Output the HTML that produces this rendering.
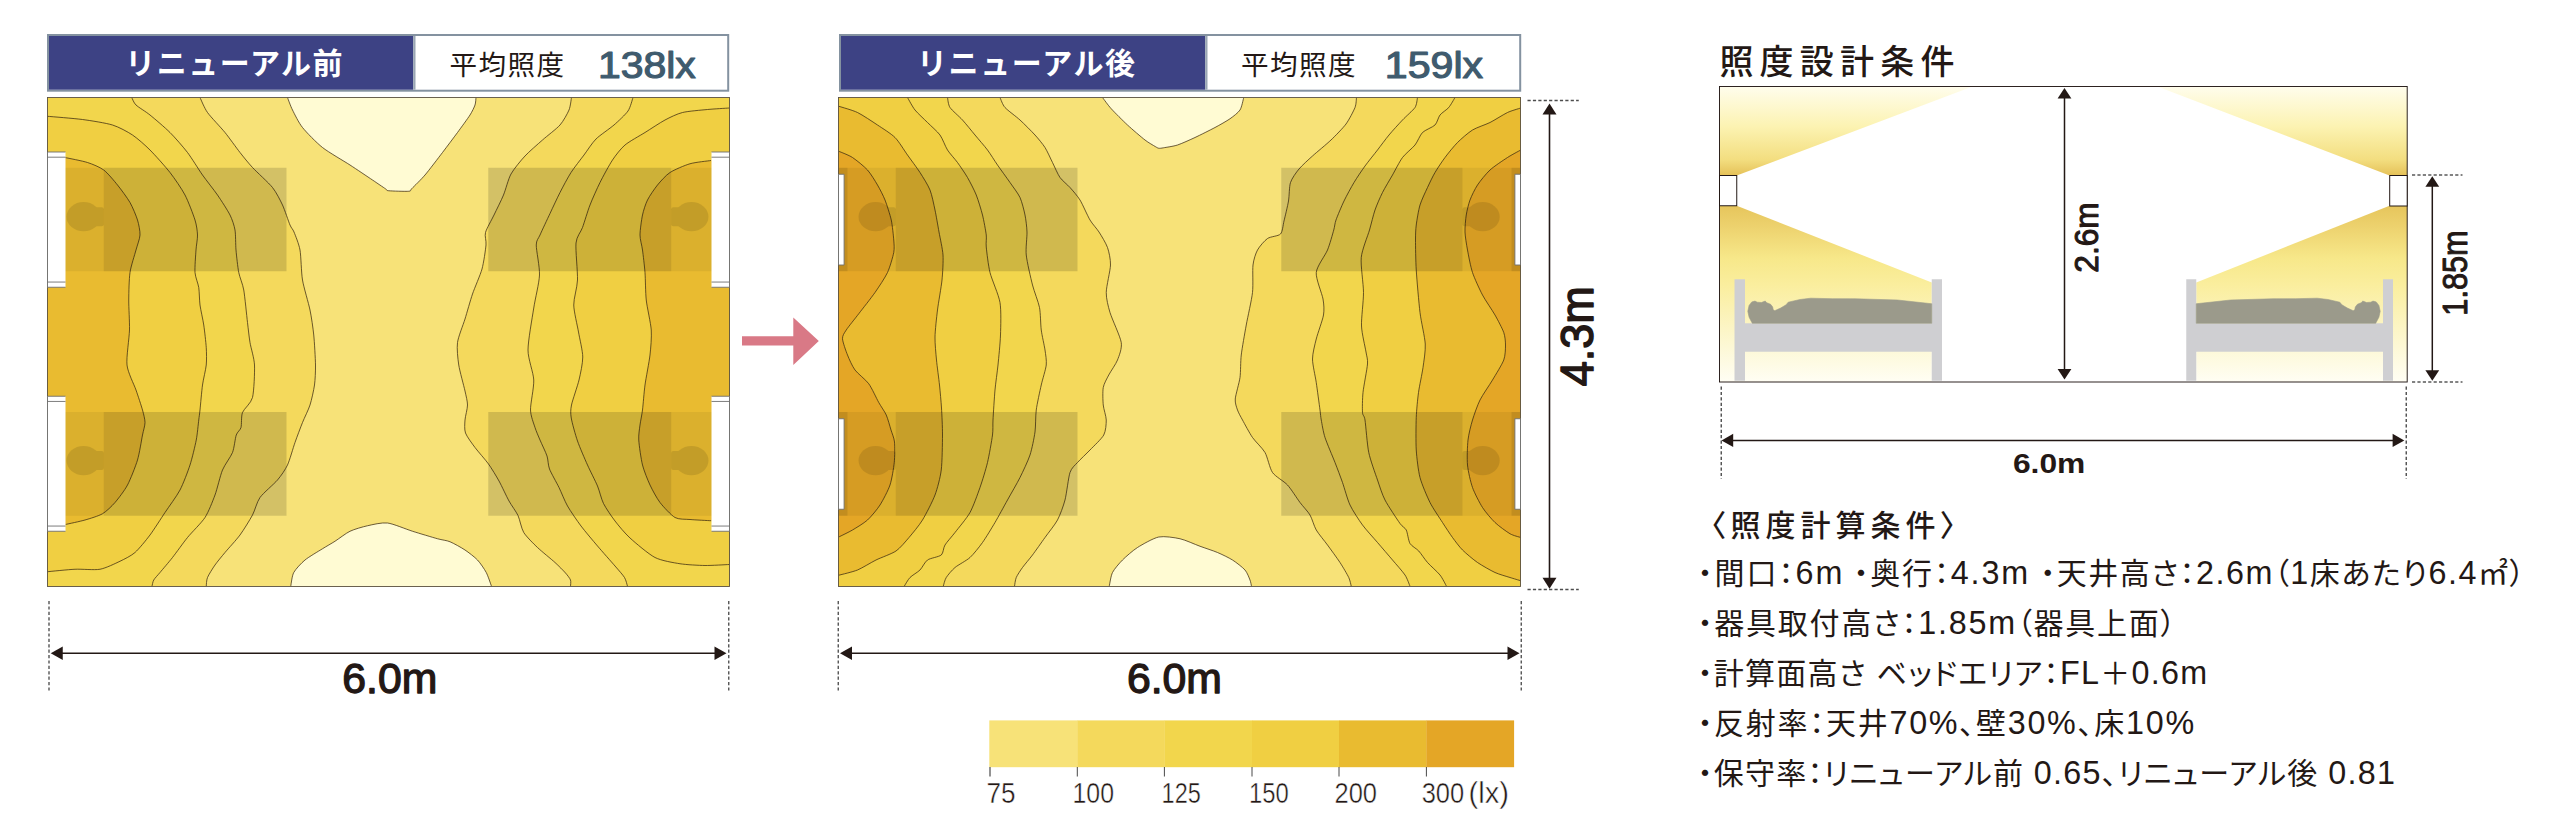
<!DOCTYPE html>
<html lang="ja">
<head>
<meta charset="utf-8">
<title>照度設計条件</title>
<style>
html,body{margin:0;padding:0;background:#fff;}
body{width:2560px;height:840px;overflow:hidden;}
svg{display:block;}
text{font-family:"Liberation Sans","Noto Sans CJK JP",sans-serif;}
.jp{font-family:"Liberation Sans","Noto Sans CJK JP",sans-serif;font-feature-settings:"palt" 1;}
</style>
</head>
<body>
<svg width="2560" height="840" viewBox="0 0 2560 840">
<rect width="2560" height="840" fill="#fff"/>
<defs>
<linearGradient id="gUp" x1="0" y1="0" x2="0" y2="1">
<stop offset="0" stop-color="#fffdec"/><stop offset="0.45" stop-color="#fcf3b2"/><stop offset="0.82" stop-color="#f3de80"/><stop offset="1" stop-color="#e5c158"/>
</linearGradient>
<linearGradient id="gDown" x1="0" y1="0" x2="0" y2="1">
<stop offset="0" stop-color="#e6c55c"/><stop offset="0.12" stop-color="#edd26e"/><stop offset="0.3" stop-color="#f7e88a"/><stop offset="0.45" stop-color="#faee9e"/><stop offset="0.7" stop-color="#fcf5c6"/><stop offset="1" stop-color="#fffef4"/>
</linearGradient>
</defs>

<!-- before renewal -->
<rect x="48" y="35" width="680.2" height="55.7" fill="#fff" stroke="#8492a0" stroke-width="2"/>
<rect x="49" y="36" width="364.2" height="53.7" fill="#3d4284"/>
<rect x="413.2" y="36" width="2.3" height="53.7" fill="#9aa6b3"/>
<text x="125.3" y="74" font-size="30" font-weight="700" fill="#fff" textLength="217.2" lengthAdjust="spacing">リニューアル前</text>
<text x="449.6" y="75.4" font-size="27.6" font-weight="400" fill="#231815" textLength="114.6" lengthAdjust="spacing">平均照度</text>
<text x="597.9" y="77.6" font-size="36.5" font-weight="400" fill="#3f5b6e" stroke="#3f5b6e" stroke-width="1.15" stroke-linejoin="round" textLength="97.8" lengthAdjust="spacingAndGlyphs">138lx</text>
<clipPath id="clipA"><rect x="47.5" y="97.5" width="682" height="489"/></clipPath>
<g clip-path="url(#clipA)">
<rect x="47.5" y="97.5" width="682" height="489" fill="#f7e278"/>
<path fill="#f4d95c" d="M200,97.5C200.94,99.38 204.38,108.12 207.5,112.5C210.62,116.88 220.94,127.5 225,132.5C229.06,137.5 236.56,148.12 240,152.5C243.44,156.88 248.44,163.12 252.5,167.5C256.56,171.88 268.75,182.81 272.5,187.5C276.25,192.19 280.31,200.31 282.5,205C284.69,209.69 288.56,221.62 290,225C291.44,228.38 292.75,228.88 294,232C295.25,235.12 298.94,244 300,250C301.06,256 301.25,272.5 302.5,280C303.75,287.5 308.59,303.12 310,310C311.41,316.88 313.06,328.12 313.75,335C314.44,341.88 315.41,358.75 315.5,365C315.59,371.25 315.19,380 314.5,385C313.81,390 311.5,400.31 310,405C308.5,409.69 304.38,417.81 302.5,422.5C300.62,427.19 296.88,437.19 295,442.5C293.12,447.81 289.69,460.31 287.5,465C285.31,469.69 280.94,475.94 277.5,480C274.06,484.06 263.12,493.12 260,497.5C256.88,501.88 255,510.31 252.5,515C250,519.69 243.44,530.31 240,535C236.56,539.69 228.12,548.75 225,552.5C221.88,556.25 217.19,561.88 215,565C212.81,568.12 208.59,574.84 207.5,577.5C206.41,580.16 206.41,585.16 206.25,586.25L45.5,586.5L45.5,97.5Z"/>
<path fill="#f2d64c" d="M131.75,97.5C132.28,98.44 133.72,102.81 136,105C138.28,107.19 145.75,111.56 150,115C154.25,118.44 165.31,127.81 170,132.5C174.69,137.19 183.44,147.19 187.5,152.5C191.56,157.81 198.75,169.69 202.5,175C206.25,180.31 214.06,190 217.5,195C220.94,200 227.81,210.62 230,215C232.19,219.38 234.25,225.62 235,230C235.75,234.38 235.53,244.69 236,250C236.47,255.31 237.78,267.5 238.75,272.5C239.72,277.5 242.66,283.75 243.75,290C244.84,296.25 246.72,315.94 247.5,322.5C248.28,329.06 249.12,337.19 250,342.5C250.88,347.81 254.19,358.12 254.5,365C254.81,371.88 254,391.56 252.5,397.5C251,403.44 243.94,408.75 242.5,412.5C241.06,416.25 241.78,424.69 241,427.5C240.22,430.31 237.31,431.88 236.25,435C235.19,438.12 234.22,448.12 232.5,452.5C230.78,456.88 224.69,464.69 222.5,470C220.31,475.31 217.19,489.06 215,495C212.81,500.94 208.44,512.19 205,517.5C201.56,522.81 191.56,532.5 187.5,537.5C183.44,542.5 175.94,553.12 172.5,557.5C169.06,561.88 162.34,569.69 160,572.5C157.66,575.31 154.75,578.28 153.75,580C152.75,581.72 152.22,585.47 152,586.25L45.5,586.5L45.5,97.5Z"/>
<path fill="#f0cf42" d="M47,116.25C51.44,116.66 74.31,118.41 82.5,119.5C90.69,120.59 106.25,123.06 112.5,125C118.75,126.94 127.81,131.88 132.5,135C137.19,138.12 145.31,145.31 150,150C154.69,154.69 165.62,166.88 170,172.5C174.38,178.12 181.88,189.06 185,195C188.12,200.94 193.44,215 195,220C196.56,225 197.38,231.25 197.5,235C197.62,238.75 196.31,245.31 196,250C195.69,254.69 194.66,267.81 195,272.5C195.34,277.19 198.12,283.44 198.75,287.5C199.38,291.56 199.38,300.31 200,305C200.62,309.69 202.97,319.69 203.75,325C204.53,330.31 205.94,342.5 206.25,347.5C206.56,352.5 206.72,360.31 206.25,365C205.78,369.69 203.28,379.38 202.5,385C201.72,390.62 200.47,405.62 200,410C199.53,414.38 199.22,416.25 198.75,420C198.28,423.75 197.34,434.38 196.25,440C195.16,445.62 192.03,458.75 190,465C187.97,471.25 183.12,484.06 180,490C176.88,495.94 168.75,506.88 165,512.5C161.25,518.12 153.75,530 150,535C146.25,540 138.75,549.22 135,552.5C131.25,555.78 124.38,559.16 120,561.25C115.62,563.34 105.62,568.25 100,569.25C94.38,570.25 81.62,568.94 75,569.25C68.38,569.56 50.5,571.44 47,571.75L45.5,571.75L45.5,116.25Z"/>
<path fill="#e9bb30" d="M65,157.5C67.81,158.12 82.66,160.94 87.5,162.5C92.34,164.06 100,167.19 103.75,170C107.5,172.81 114.22,180.94 117.5,185C120.78,189.06 127.5,198.12 130,202.5C132.5,206.88 136.25,215.94 137.5,220C138.75,224.06 140.19,231.25 140,235C139.81,238.75 137.25,245.31 136,250C134.75,254.69 130.91,266.25 130,272.5C129.09,278.75 128.81,292.81 128.75,300C128.69,307.19 129.72,321.88 129.5,330C129.28,338.12 126.19,357.5 127,365C127.81,372.5 134.06,384.38 136,390C137.94,395.62 141.38,405.94 142.5,410C143.62,414.06 145,419.38 145,422.5C145,425.62 143.44,430.31 142.5,435C141.56,439.69 139.38,453.75 137.5,460C135.62,466.25 130.31,479.69 127.5,485C124.69,490.31 118.12,498.91 115,502.5C111.88,506.09 106.25,511.56 102.5,513.75C98.75,515.94 89.62,518.66 85,520C80.38,521.34 67.94,523.94 65.5,524.5L45.5,524.5L45.5,157.5Z"/>
<path fill="#f4d95c" d="M571.5,97.5C571.19,99.06 570.44,106.56 569,110C567.56,113.44 563.31,121.25 560,125C556.69,128.75 546.88,136.12 542.5,140C538.12,143.88 528.94,151.75 525,156C521.06,160.25 513.69,169.12 511,174C508.31,178.88 505.62,189.88 503.5,195C501.38,200.12 496.25,210.31 494,215C491.75,219.69 486.5,228.75 485.5,232.5C484.5,236.25 486.44,240.44 486,245C485.56,249.56 483.69,262.88 482,269C480.31,275.12 474.62,287.75 472.5,294C470.38,300.25 466.88,312.94 465,319C463.12,325.06 458.28,336.75 457.5,342.5C456.72,348.25 457.81,358.94 458.75,365C459.69,371.06 463.91,386 465,391C466.09,396 467.5,401.38 467.5,405C467.5,408.62 465.25,416.5 465,420C464.75,423.5 464.25,429.56 465.5,433C466.75,436.44 472.12,443.62 475,447.5C477.88,451.38 485.5,459.81 488.5,464C491.5,468.19 496.44,476.38 499,481C501.56,485.62 506.62,496.69 509,501C511.38,505.31 516.16,511.56 518,515.5C519.84,519.44 521.31,528.5 523.75,532.5C526.19,536.5 533.59,543.75 537.5,547.5C541.41,551.25 551.5,559.31 555,562.5C558.5,565.69 563.56,570.81 565.5,573C567.44,575.19 569.88,578.34 570.5,580C571.12,581.66 570.5,585.47 570.5,586.25L731.5,586.5L731.5,97.5Z"/>
<path fill="#f2d64c" d="M633,97.5C632.38,99.19 630.38,107.56 628,111C625.62,114.44 618,121.5 614,125C610,128.5 599.75,135.25 596,139C592.25,142.75 587.12,150.81 584,155C580.88,159.19 574,167.81 571,172.5C568,177.19 562.62,187.38 560,192.5C557.38,197.62 552.5,208.19 550,213.5C547.5,218.81 541.72,231.06 540,235C538.28,238.94 536.31,240 536.25,245C536.19,250 539.81,267.12 539.5,275C539.19,282.88 535.19,298.62 533.75,308C532.31,317.38 528,341 528,350C528,359 533.44,372.5 533.75,380C534.06,387.5 530.34,404.06 530.5,410C530.66,415.94 533.81,423.75 535,427.5C536.19,431.25 538.5,436.44 540,440C541.5,443.56 545.81,452.38 547,456C548.19,459.62 548,465.06 549.5,469C551,472.94 556.75,482.88 559,487.5C561.25,492.12 564.75,501.19 567.5,506C570.25,510.81 577.25,521 581,526C584.75,531 593.25,541 597.5,546C601.75,551 611.62,562.06 615,566C618.38,569.94 622.94,574.97 624.5,577.5C626.06,580.03 627.12,585.16 627.5,586.25L731.5,586.5L731.5,97.5Z"/>
<path fill="#f0cf42" d="M729.25,108C726.53,108.19 713.34,108.94 707.5,109.5C701.66,110.06 687.81,111.19 682.5,112.5C677.19,113.81 669.69,117.5 665,120C660.31,122.5 650,129.38 645,132.5C640,135.62 629.06,141.56 625,145C620.94,148.44 615.62,155.31 612.5,160C609.38,164.69 602.81,176.88 600,182.5C597.19,188.12 592.19,199.38 590,205C587.81,210.62 584.25,222.75 582.5,227.5C580.75,232.25 576.62,236.44 576,243C575.38,249.56 577.78,272.25 577.5,280C577.22,287.75 573.62,298.5 573.75,305C573.88,311.5 577.38,325.5 578.5,332C579.62,338.5 582.69,351 582.75,357C582.81,363 580.41,374 579,380C577.59,386 572.47,400.25 571.5,405C570.53,409.75 570.5,413.5 571.25,418C572,422.5 575.47,435.12 577.5,441C579.53,446.88 585,459.38 587.5,465C590,470.62 595.5,481.19 597.5,486C599.5,490.81 601.31,499.12 603.5,503.5C605.69,507.88 611.69,516.69 615,521C618.31,525.31 625,533.44 630,538C635,542.56 648.75,554.28 655,557.5C661.25,560.72 673.75,562.75 680,563.75C686.25,564.75 698.84,565.41 705,565.5C711.16,565.59 726.22,564.62 729.25,564.5L731.5,564.5L731.5,108Z"/>
<path fill="#e9bb30" d="M711,160.5C708.38,160.91 695.12,162.25 690,163.75C684.88,165.25 674.06,169.84 670,172.5C665.94,175.16 660.31,181.56 657.5,185C654.69,188.44 649.38,196.25 647.5,200C645.62,203.75 643.44,210.62 642.5,215C641.56,219.38 640,230.62 640,235C640,239.38 641.88,245.31 642.5,250C643.12,254.69 644.53,266.25 645,272.5C645.47,278.75 645.47,292.81 646.25,300C647.03,307.19 650.78,323.12 651.25,330C651.72,336.88 650.78,348.12 650,355C649.22,361.88 645.94,378.12 645,385C644.06,391.88 643.12,405 642.5,410C641.88,415 640.47,421.25 640,425C639.53,428.75 638.44,435 638.75,440C639.06,445 641.09,459.38 642.5,465C643.91,470.62 647.81,480.31 650,485C652.19,489.69 656.88,498.44 660,502.5C663.12,506.56 671.25,515.38 675,517.5C678.75,519.62 685.47,519.09 690,519.5C694.53,519.91 708.59,520.59 711.25,520.75L731.5,520.75L731.5,160.5Z"/>
<path fill="#fffbd3" d="M287.5,97.5C288.12,99.06 290.62,106.25 292.5,110C294.38,113.75 298.75,122.81 302.5,127.5C306.25,132.19 316.56,142.81 322.5,147.5C328.44,152.19 343.75,160.94 350,165C356.25,169.06 368.06,177.03 372.5,180C376.94,182.97 383.47,187.46 385.5,188.8C387.53,190.14 385.84,190.44 388.75,190.75C391.66,191.06 405.87,191.52 408.75,191.25C411.63,190.98 409.77,190.63 411.8,188.6C413.83,186.57 421.16,179.51 425,175C428.84,170.49 438.44,157.81 442.5,152.5C446.56,147.19 454.06,137.19 457.5,132.5C460.94,127.81 467.81,118.44 470,115C472.19,111.56 474.25,107.19 475,105C475.75,102.81 475.88,98.44 476,97.5L476,95.5L287.5,95.5Z"/>
<path fill="#fffbd3" d="M290.75,586.25C291.12,584.53 291.97,575.78 293.75,572.5C295.53,569.22 301.41,562.97 305,560C308.59,557.03 318.75,551.09 322.5,548.75C326.25,546.41 331.56,543.44 335,541.25C338.44,539.06 345.94,533.19 350,531.25C354.06,529.31 362.81,526.78 367.5,525.75C372.19,524.72 381.88,522.31 387.5,523C393.12,523.69 406.25,529.28 412.5,531.25C418.75,533.22 432.81,537.44 437.5,538.75C442.19,540.06 446.56,540.34 450,541.75C453.44,543.16 461.56,547.72 465,550C468.44,552.28 474.84,557.19 477.5,560C480.16,562.81 484.5,569.22 486.25,572.5C488,575.78 490.84,584.53 491.5,586.25L491.5,588.5L290.75,588.5Z"/>
<g fill="none" stroke="#3b2a12" stroke-width="0.75" stroke-linejoin="round">
<path d="M65,157.5C67.81,158.12 82.66,160.94 87.5,162.5C92.34,164.06 100,167.19 103.75,170C107.5,172.81 114.22,180.94 117.5,185C120.78,189.06 127.5,198.12 130,202.5C132.5,206.88 136.25,215.94 137.5,220C138.75,224.06 140.19,231.25 140,235C139.81,238.75 137.25,245.31 136,250C134.75,254.69 130.91,266.25 130,272.5C129.09,278.75 128.81,292.81 128.75,300C128.69,307.19 129.72,321.88 129.5,330C129.28,338.12 126.19,357.5 127,365C127.81,372.5 134.06,384.38 136,390C137.94,395.62 141.38,405.94 142.5,410C143.62,414.06 145,419.38 145,422.5C145,425.62 143.44,430.31 142.5,435C141.56,439.69 139.38,453.75 137.5,460C135.62,466.25 130.31,479.69 127.5,485C124.69,490.31 118.12,498.91 115,502.5C111.88,506.09 106.25,511.56 102.5,513.75C98.75,515.94 89.62,518.66 85,520C80.38,521.34 67.94,523.94 65.5,524.5"/>
<path d="M47,116.25C51.44,116.66 74.31,118.41 82.5,119.5C90.69,120.59 106.25,123.06 112.5,125C118.75,126.94 127.81,131.88 132.5,135C137.19,138.12 145.31,145.31 150,150C154.69,154.69 165.62,166.88 170,172.5C174.38,178.12 181.88,189.06 185,195C188.12,200.94 193.44,215 195,220C196.56,225 197.38,231.25 197.5,235C197.62,238.75 196.31,245.31 196,250C195.69,254.69 194.66,267.81 195,272.5C195.34,277.19 198.12,283.44 198.75,287.5C199.38,291.56 199.38,300.31 200,305C200.62,309.69 202.97,319.69 203.75,325C204.53,330.31 205.94,342.5 206.25,347.5C206.56,352.5 206.72,360.31 206.25,365C205.78,369.69 203.28,379.38 202.5,385C201.72,390.62 200.47,405.62 200,410C199.53,414.38 199.22,416.25 198.75,420C198.28,423.75 197.34,434.38 196.25,440C195.16,445.62 192.03,458.75 190,465C187.97,471.25 183.12,484.06 180,490C176.88,495.94 168.75,506.88 165,512.5C161.25,518.12 153.75,530 150,535C146.25,540 138.75,549.22 135,552.5C131.25,555.78 124.38,559.16 120,561.25C115.62,563.34 105.62,568.25 100,569.25C94.38,570.25 81.62,568.94 75,569.25C68.38,569.56 50.5,571.44 47,571.75"/>
<path d="M131.75,97.5C132.28,98.44 133.72,102.81 136,105C138.28,107.19 145.75,111.56 150,115C154.25,118.44 165.31,127.81 170,132.5C174.69,137.19 183.44,147.19 187.5,152.5C191.56,157.81 198.75,169.69 202.5,175C206.25,180.31 214.06,190 217.5,195C220.94,200 227.81,210.62 230,215C232.19,219.38 234.25,225.62 235,230C235.75,234.38 235.53,244.69 236,250C236.47,255.31 237.78,267.5 238.75,272.5C239.72,277.5 242.66,283.75 243.75,290C244.84,296.25 246.72,315.94 247.5,322.5C248.28,329.06 249.12,337.19 250,342.5C250.88,347.81 254.19,358.12 254.5,365C254.81,371.88 254,391.56 252.5,397.5C251,403.44 243.94,408.75 242.5,412.5C241.06,416.25 241.78,424.69 241,427.5C240.22,430.31 237.31,431.88 236.25,435C235.19,438.12 234.22,448.12 232.5,452.5C230.78,456.88 224.69,464.69 222.5,470C220.31,475.31 217.19,489.06 215,495C212.81,500.94 208.44,512.19 205,517.5C201.56,522.81 191.56,532.5 187.5,537.5C183.44,542.5 175.94,553.12 172.5,557.5C169.06,561.88 162.34,569.69 160,572.5C157.66,575.31 154.75,578.28 153.75,580C152.75,581.72 152.22,585.47 152,586.25"/>
<path d="M200,97.5C200.94,99.38 204.38,108.12 207.5,112.5C210.62,116.88 220.94,127.5 225,132.5C229.06,137.5 236.56,148.12 240,152.5C243.44,156.88 248.44,163.12 252.5,167.5C256.56,171.88 268.75,182.81 272.5,187.5C276.25,192.19 280.31,200.31 282.5,205C284.69,209.69 288.56,221.62 290,225C291.44,228.38 292.75,228.88 294,232C295.25,235.12 298.94,244 300,250C301.06,256 301.25,272.5 302.5,280C303.75,287.5 308.59,303.12 310,310C311.41,316.88 313.06,328.12 313.75,335C314.44,341.88 315.41,358.75 315.5,365C315.59,371.25 315.19,380 314.5,385C313.81,390 311.5,400.31 310,405C308.5,409.69 304.38,417.81 302.5,422.5C300.62,427.19 296.88,437.19 295,442.5C293.12,447.81 289.69,460.31 287.5,465C285.31,469.69 280.94,475.94 277.5,480C274.06,484.06 263.12,493.12 260,497.5C256.88,501.88 255,510.31 252.5,515C250,519.69 243.44,530.31 240,535C236.56,539.69 228.12,548.75 225,552.5C221.88,556.25 217.19,561.88 215,565C212.81,568.12 208.59,574.84 207.5,577.5C206.41,580.16 206.41,585.16 206.25,586.25"/>
<path d="M287.5,97.5C288.12,99.06 290.62,106.25 292.5,110C294.38,113.75 298.75,122.81 302.5,127.5C306.25,132.19 316.56,142.81 322.5,147.5C328.44,152.19 343.75,160.94 350,165C356.25,169.06 368.06,177.03 372.5,180C376.94,182.97 383.47,187.46 385.5,188.8C387.53,190.14 385.84,190.44 388.75,190.75C391.66,191.06 405.87,191.52 408.75,191.25C411.63,190.98 409.77,190.63 411.8,188.6C413.83,186.57 421.16,179.51 425,175C428.84,170.49 438.44,157.81 442.5,152.5C446.56,147.19 454.06,137.19 457.5,132.5C460.94,127.81 467.81,118.44 470,115C472.19,111.56 474.25,107.19 475,105C475.75,102.81 475.88,98.44 476,97.5"/>
<path d="M290.75,586.25C291.12,584.53 291.97,575.78 293.75,572.5C295.53,569.22 301.41,562.97 305,560C308.59,557.03 318.75,551.09 322.5,548.75C326.25,546.41 331.56,543.44 335,541.25C338.44,539.06 345.94,533.19 350,531.25C354.06,529.31 362.81,526.78 367.5,525.75C372.19,524.72 381.88,522.31 387.5,523C393.12,523.69 406.25,529.28 412.5,531.25C418.75,533.22 432.81,537.44 437.5,538.75C442.19,540.06 446.56,540.34 450,541.75C453.44,543.16 461.56,547.72 465,550C468.44,552.28 474.84,557.19 477.5,560C480.16,562.81 484.5,569.22 486.25,572.5C488,575.78 490.84,584.53 491.5,586.25"/>
<path d="M571.5,97.5C571.19,99.06 570.44,106.56 569,110C567.56,113.44 563.31,121.25 560,125C556.69,128.75 546.88,136.12 542.5,140C538.12,143.88 528.94,151.75 525,156C521.06,160.25 513.69,169.12 511,174C508.31,178.88 505.62,189.88 503.5,195C501.38,200.12 496.25,210.31 494,215C491.75,219.69 486.5,228.75 485.5,232.5C484.5,236.25 486.44,240.44 486,245C485.56,249.56 483.69,262.88 482,269C480.31,275.12 474.62,287.75 472.5,294C470.38,300.25 466.88,312.94 465,319C463.12,325.06 458.28,336.75 457.5,342.5C456.72,348.25 457.81,358.94 458.75,365C459.69,371.06 463.91,386 465,391C466.09,396 467.5,401.38 467.5,405C467.5,408.62 465.25,416.5 465,420C464.75,423.5 464.25,429.56 465.5,433C466.75,436.44 472.12,443.62 475,447.5C477.88,451.38 485.5,459.81 488.5,464C491.5,468.19 496.44,476.38 499,481C501.56,485.62 506.62,496.69 509,501C511.38,505.31 516.16,511.56 518,515.5C519.84,519.44 521.31,528.5 523.75,532.5C526.19,536.5 533.59,543.75 537.5,547.5C541.41,551.25 551.5,559.31 555,562.5C558.5,565.69 563.56,570.81 565.5,573C567.44,575.19 569.88,578.34 570.5,580C571.12,581.66 570.5,585.47 570.5,586.25"/>
<path d="M633,97.5C632.38,99.19 630.38,107.56 628,111C625.62,114.44 618,121.5 614,125C610,128.5 599.75,135.25 596,139C592.25,142.75 587.12,150.81 584,155C580.88,159.19 574,167.81 571,172.5C568,177.19 562.62,187.38 560,192.5C557.38,197.62 552.5,208.19 550,213.5C547.5,218.81 541.72,231.06 540,235C538.28,238.94 536.31,240 536.25,245C536.19,250 539.81,267.12 539.5,275C539.19,282.88 535.19,298.62 533.75,308C532.31,317.38 528,341 528,350C528,359 533.44,372.5 533.75,380C534.06,387.5 530.34,404.06 530.5,410C530.66,415.94 533.81,423.75 535,427.5C536.19,431.25 538.5,436.44 540,440C541.5,443.56 545.81,452.38 547,456C548.19,459.62 548,465.06 549.5,469C551,472.94 556.75,482.88 559,487.5C561.25,492.12 564.75,501.19 567.5,506C570.25,510.81 577.25,521 581,526C584.75,531 593.25,541 597.5,546C601.75,551 611.62,562.06 615,566C618.38,569.94 622.94,574.97 624.5,577.5C626.06,580.03 627.12,585.16 627.5,586.25"/>
<path d="M729.25,108C726.53,108.19 713.34,108.94 707.5,109.5C701.66,110.06 687.81,111.19 682.5,112.5C677.19,113.81 669.69,117.5 665,120C660.31,122.5 650,129.38 645,132.5C640,135.62 629.06,141.56 625,145C620.94,148.44 615.62,155.31 612.5,160C609.38,164.69 602.81,176.88 600,182.5C597.19,188.12 592.19,199.38 590,205C587.81,210.62 584.25,222.75 582.5,227.5C580.75,232.25 576.62,236.44 576,243C575.38,249.56 577.78,272.25 577.5,280C577.22,287.75 573.62,298.5 573.75,305C573.88,311.5 577.38,325.5 578.5,332C579.62,338.5 582.69,351 582.75,357C582.81,363 580.41,374 579,380C577.59,386 572.47,400.25 571.5,405C570.53,409.75 570.5,413.5 571.25,418C572,422.5 575.47,435.12 577.5,441C579.53,446.88 585,459.38 587.5,465C590,470.62 595.5,481.19 597.5,486C599.5,490.81 601.31,499.12 603.5,503.5C605.69,507.88 611.69,516.69 615,521C618.31,525.31 625,533.44 630,538C635,542.56 648.75,554.28 655,557.5C661.25,560.72 673.75,562.75 680,563.75C686.25,564.75 698.84,565.41 705,565.5C711.16,565.59 726.22,564.62 729.25,564.5"/>
<path d="M711,160.5C708.38,160.91 695.12,162.25 690,163.75C684.88,165.25 674.06,169.84 670,172.5C665.94,175.16 660.31,181.56 657.5,185C654.69,188.44 649.38,196.25 647.5,200C645.62,203.75 643.44,210.62 642.5,215C641.56,219.38 640,230.62 640,235C640,239.38 641.88,245.31 642.5,250C643.12,254.69 644.53,266.25 645,272.5C645.47,278.75 645.47,292.81 646.25,300C647.03,307.19 650.78,323.12 651.25,330C651.72,336.88 650.78,348.12 650,355C649.22,361.88 645.94,378.12 645,385C644.06,391.88 643.12,405 642.5,410C641.88,415 640.47,421.25 640,425C639.53,428.75 638.44,435 638.75,440C639.06,445 641.09,459.38 642.5,465C643.91,470.62 647.81,480.31 650,485C652.19,489.69 656.88,498.44 660,502.5C663.12,506.56 671.25,515.38 675,517.5C678.75,519.62 685.47,519.09 690,519.5C694.53,519.91 708.59,520.59 711.25,520.75"/>
</g>
<rect x="47" y="167.75" width="56.75" height="103.5" fill="#000" fill-opacity="0.06"/>
<rect x="103.75" y="167.75" width="182.75" height="103.5" fill="#000" fill-opacity="0.145"/>
<rect x="488.25" y="167.75" width="183" height="103.5" fill="#000" fill-opacity="0.145"/>
<rect x="671.25" y="167.75" width="58" height="103.5" fill="#000" fill-opacity="0.06"/>
<rect x="47" y="412" width="56.75" height="103.75" fill="#000" fill-opacity="0.06"/>
<rect x="103.75" y="412" width="182.75" height="103.75" fill="#000" fill-opacity="0.145"/>
<rect x="488.25" y="412" width="183" height="103.75" fill="#000" fill-opacity="0.145"/>
<rect x="671.25" y="412" width="58" height="103.75" fill="#000" fill-opacity="0.06"/>
<g opacity="0.10"><ellipse cx="83.55" cy="216.7" rx="17" ry="14.6"/><rect x="91.75" y="207.2" width="12" height="19" rx="2"/></g>
<g opacity="0.10"><ellipse cx="691.45" cy="216.7" rx="17" ry="14.6"/><rect x="671.25" y="207.2" width="12" height="19" rx="2"/></g>
<g opacity="0.10"><ellipse cx="83.55" cy="460.6" rx="17" ry="14.6"/><rect x="91.75" y="451.1" width="12" height="19" rx="2"/></g>
<g opacity="0.10"><ellipse cx="691.45" cy="460.6" rx="17" ry="14.6"/><rect x="671.25" y="451.1" width="12" height="19" rx="2"/></g>
</g>
<rect x="47.5" y="97.5" width="682" height="489" fill="none" stroke="#5b5140" stroke-width="0.9"/>
<rect x="47.5" y="152" width="18" height="135.25" fill="#fff"/>
<path d="M47.5,152V287.25M47.5,152h18M47.5,287.25h18M47.5,157.2h18M47.5,282.05h18" stroke="#6e6e6e" stroke-width="0.9" fill="none"/>
<rect x="711.5" y="152" width="18" height="135.25" fill="#fff"/>
<path d="M729.5,152V287.25M711.5,152h18M711.5,287.25h18M711.5,157.2h18M711.5,282.05h18" stroke="#6e6e6e" stroke-width="0.9" fill="none"/>
<rect x="47.5" y="396.25" width="18" height="135" fill="#fff"/>
<path d="M47.5,396.25V531.25M47.5,396.25h18M47.5,531.25h18M47.5,401.45h18M47.5,526.05h18" stroke="#6e6e6e" stroke-width="0.9" fill="none"/>
<rect x="711.5" y="396.25" width="18" height="135" fill="#fff"/>
<path d="M729.5,396.25V531.25M711.5,396.25h18M711.5,531.25h18M711.5,401.45h18M711.5,526.05h18" stroke="#6e6e6e" stroke-width="0.9" fill="none"/>
<!-- after renewal -->
<rect x="840" y="35" width="680.2" height="55.7" fill="#fff" stroke="#8492a0" stroke-width="2"/>
<rect x="841" y="36" width="364.2" height="53.7" fill="#3d4284"/>
<rect x="1205.2" y="36" width="2.3" height="53.7" fill="#9aa6b3"/>
<text x="916.9" y="74" font-size="30" font-weight="700" fill="#fff" textLength="218.2" lengthAdjust="spacing">リニューアル後</text>
<text x="1241" y="75.4" font-size="27.6" font-weight="400" fill="#231815" textLength="114.6" lengthAdjust="spacing">平均照度</text>
<text x="1384.8" y="77.6" font-size="36.5" font-weight="400" fill="#3f5b6e" stroke="#3f5b6e" stroke-width="1.15" stroke-linejoin="round" textLength="98.3" lengthAdjust="spacingAndGlyphs">159lx</text>
<clipPath id="clipB"><rect x="838.5" y="97.5" width="682" height="489"/></clipPath>
<g clip-path="url(#clipB)">
<rect x="838.5" y="97.5" width="682" height="489" fill="#f7e278"/>
<path fill="#f4d95c" d="M1000,97.5C1000.62,98.75 1002.5,104.69 1005,107.5C1007.5,110.31 1016.25,116.56 1020,120C1023.75,123.44 1031.88,131.56 1035,135C1038.12,138.44 1042.81,144.06 1045,147.5C1047.19,150.94 1050.62,158.75 1052.5,162.5C1054.38,166.25 1057.81,174.38 1060,177.5C1062.19,180.62 1067.5,184.69 1070,187.5C1072.5,190.31 1077.5,195.94 1080,200C1082.5,204.06 1087.62,216 1090,220C1092.38,224 1096.81,228.56 1099,232C1101.19,235.44 1106.06,243.38 1107.5,247.5C1108.94,251.62 1110.66,259.38 1110.5,265C1110.34,270.62 1106.31,286.56 1106.25,292.5C1106.19,298.44 1108.12,306.25 1110,312.5C1111.88,318.75 1120.31,336.56 1121.25,342.5C1122.19,348.44 1119.06,355.94 1117.5,360C1115.94,364.06 1110.53,371.56 1108.75,375C1106.97,378.44 1103.94,383.75 1103.25,387.5C1102.56,391.25 1102.88,400.94 1103.25,405C1103.62,409.06 1106.19,416.25 1106.25,420C1106.31,423.75 1105.78,431.25 1103.75,435C1101.72,438.75 1093.28,446.56 1090,450C1086.72,453.44 1080,459.69 1077.5,462.5C1075,465.31 1071.56,467.81 1070,472.5C1068.44,477.19 1066.56,494.06 1065,500C1063.44,505.94 1060,515.31 1057.5,520C1055,524.69 1048.12,533.12 1045,537.5C1041.88,541.88 1035.31,551.25 1032.5,555C1029.69,558.75 1024.53,564.69 1022.5,567.5C1020.47,570.31 1017.25,575.16 1016.25,577.5C1015.25,579.84 1014.72,585.16 1014.5,586.25L836.5,586.5L836.5,97.5Z"/>
<path fill="#f2d64c" d="M947.5,97.5C947.81,98.75 948.12,104.69 950,107.5C951.88,110.31 959.38,116.56 962.5,120C965.62,123.44 971.88,131.25 975,135C978.12,138.75 984.69,146.25 987.5,150C990.31,153.75 994.69,160.94 997.5,165C1000.31,169.06 1007.19,178.44 1010,182.5C1012.81,186.56 1018.12,193.44 1020,197.5C1021.88,201.56 1024.12,210.69 1025,215C1025.88,219.31 1026.84,227 1027,232C1027.16,237 1025.56,248.38 1026.25,255C1026.94,261.62 1030.84,278.44 1032.5,285C1034.16,291.56 1038.41,301.88 1039.5,307.5C1040.59,313.12 1040.56,324.69 1041.25,330C1041.94,335.31 1044.38,345.62 1045,350C1045.62,354.38 1046.72,360.62 1046.25,365C1045.78,369.38 1042.5,379.38 1041.25,385C1040,390.62 1037.03,404.12 1036.25,410C1035.47,415.88 1035.78,426.38 1035,432C1034.22,437.62 1031.88,449.31 1030,455C1028.12,460.69 1022.81,471.88 1020,477.5C1017.19,483.12 1010.62,494.38 1007.5,500C1004.38,505.62 998.12,517.19 995,522.5C991.88,527.81 985.62,538.12 982.5,542.5C979.38,546.88 973.44,554.38 970,557.5C966.56,560.62 957.97,565 955,567.5C952.03,570 947.72,575.16 946.25,577.5C944.78,579.84 943.62,585.16 943.25,586.25L836.5,586.5L836.5,97.5Z"/>
<path fill="#f0cf42" d="M907.5,97.5C908.44,99.06 912.5,106.88 915,110C917.5,113.12 924.38,119.38 927.5,122.5C930.62,125.62 937.5,131.56 940,135C942.5,138.44 945.31,146.56 947.5,150C949.69,153.44 955,159.06 957.5,162.5C960,165.94 965.16,173.44 967.5,177.5C969.84,181.56 974.38,190.31 976.25,195C978.12,199.69 981.25,210 982.5,215C983.75,220 985.78,231 986.25,235C986.72,239 985.78,242.31 986.25,247C986.72,251.69 988.28,265.56 990,272.5C991.72,279.44 998.69,294.69 1000,302.5C1001.31,310.31 1000.75,327.19 1000.5,335C1000.25,342.81 998.69,358.12 998,365C997.31,371.88 995.62,383.12 995,390C994.38,396.88 993.31,414.38 993,420C992.69,425.62 993.19,429.69 992.5,435C991.81,440.31 989.06,455.94 987.5,462.5C985.94,469.06 982.19,481.25 980,487.5C977.81,493.75 973.12,506.88 970,512.5C966.88,518.12 958.12,528.44 955,532.5C951.88,536.56 946.72,542.19 945,545C943.28,547.81 943.44,553.12 941.25,555C939.06,556.88 930.16,558.12 927.5,560C924.84,561.88 922.19,567.81 920,570C917.81,572.19 911.97,575.47 910,577.5C908.03,579.53 904.97,585.16 904.25,586.25L836.5,586.5L836.5,97.5Z"/>
<path fill="#e9bb30" d="M838.75,106.25C841.09,107.03 852.66,110.16 857.5,112.5C862.34,114.84 872.81,121.88 877.5,125C882.19,128.12 891.25,133.75 895,137.5C898.75,141.25 904.38,150.62 907.5,155C910.62,159.38 917.19,168.12 920,172.5C922.81,176.88 928.12,185.31 930,190C931.88,194.69 933.88,204.75 935,210C936.12,215.25 938,226.38 939,232C940,237.62 942.62,249 943,255C943.38,261 942.69,273.12 942,280C941.31,286.88 938.38,302.88 937.5,310C936.62,317.12 935.12,330.75 935,337C934.88,343.25 935.94,354 936.5,360C937.06,366 938.88,379 939.5,385C940.12,391 941.12,401.75 941.5,408C941.88,414.25 942.53,427.25 942.5,435C942.47,442.75 942.19,462.5 941.25,470C940.31,477.5 937.34,488.75 935,495C932.66,501.25 925.75,514.69 922.5,520C919.25,525.31 912.31,533.62 909,537.5C905.69,541.38 900.12,548.19 896,551C891.88,553.81 880.81,557.62 876,560C871.19,562.38 862.16,568.09 857.5,570C852.84,571.91 841.09,574.59 838.75,575.25L836.5,575.25L836.5,106.25Z"/>
<path fill="#e4a626" d="M838.75,151.25C840.47,152.03 848.91,155.16 852.5,157.5C856.09,159.84 864.38,166.56 867.5,170C870.62,173.44 875.31,181.25 877.5,185C879.69,188.75 883.28,195.62 885,200C886.72,204.38 890.16,215 891.25,220C892.34,225 893.44,235.94 893.75,240C894.06,244.06 894.53,248.44 893.75,252.5C892.97,256.56 889.84,267.5 887.5,272.5C885.16,277.5 878.59,287.34 875,292.5C871.41,297.66 862.34,309.06 858.75,313.75C855.16,318.44 848.28,326.88 846.25,330C844.22,333.12 842.34,335.62 842.5,338.75C842.66,341.88 845.94,351.09 847.5,355C849.06,358.91 852.34,366.41 855,370C857.66,373.59 865.78,379.69 868.75,383.75C871.72,387.81 876.56,398.59 878.75,402.5C880.94,406.41 884.72,411.56 886.25,415C887.78,418.44 889.97,426.62 891,430C892.03,433.38 894.09,437.94 894.5,442C894.91,446.06 894.81,457.12 894.25,462.5C893.69,467.88 891.78,479.69 890,485C888.22,490.31 882.81,500.62 880,505C877.19,509.38 870.94,516.88 867.5,520C864.06,523.12 856.09,527.88 852.5,530C848.91,532.12 840.47,536.12 838.75,537L836.5,537L836.5,151.25Z"/>
<path fill="#f4d95c" d="M1356.5,97.5C1356.31,98.75 1356.31,104.19 1355,107.5C1353.69,110.81 1349,119.94 1346,124C1343,128.06 1335.19,136 1331,140C1326.81,144 1316.5,152.38 1312.5,156C1308.5,159.62 1301.75,165.69 1299,169C1296.25,172.31 1291.81,178.5 1290.5,182.5C1289.19,186.5 1289.31,196.19 1288.5,201C1287.69,205.81 1285,216.88 1284,221C1283,225.12 1282.56,231.81 1280.5,234C1278.44,236.19 1270.38,236.5 1267.5,238.5C1264.62,240.5 1259.31,246.69 1257.5,250C1255.69,253.31 1253.62,259.69 1253,265C1252.38,270.31 1253.34,285 1252.5,292.5C1251.66,300 1247.66,317.19 1246.25,325C1244.84,332.81 1242.03,348.44 1241.25,355C1240.47,361.56 1240.75,372 1240,377.5C1239.25,383 1235.56,394.94 1235.25,399C1234.94,403.06 1236.59,407.38 1237.5,410C1238.41,412.62 1240.62,416.56 1242.5,420C1244.38,423.44 1249.69,433.44 1252.5,437.5C1255.31,441.56 1262.5,448.12 1265,452.5C1267.5,456.88 1269.69,468.44 1272.5,472.5C1275.31,476.56 1284.06,481.25 1287.5,485C1290.94,488.75 1297.19,498.75 1300,502.5C1302.81,506.25 1307.97,511.56 1310,515C1312.03,518.44 1314.06,526.25 1316.25,530C1318.44,533.75 1324.53,540.94 1327.5,545C1330.47,549.06 1337.34,558.44 1340,562.5C1342.66,566.56 1347.34,574.53 1348.75,577.5C1350.16,580.47 1350.94,585.16 1351.25,586.25L1522.5,586.5L1522.5,97.5Z"/>
<path fill="#f2d64c" d="M1417.5,97.5C1417.19,98.75 1416.88,104.69 1415,107.5C1413.12,110.31 1405.75,116.56 1402.5,120C1399.25,123.44 1392.12,131.25 1389,135C1385.88,138.75 1380.5,146.12 1377.5,150C1374.5,153.88 1367.94,161.94 1365,166C1362.06,170.06 1356.62,178.12 1354,182.5C1351.38,186.88 1346.25,196.31 1344,201C1341.75,205.69 1337.28,216.38 1336,220C1334.72,223.62 1334.81,226.25 1333.75,230C1332.69,233.75 1329.69,244.69 1327.5,250C1325.31,255.31 1316.81,266.38 1316.25,272.5C1315.69,278.62 1322.09,293.69 1323,299C1323.91,304.31 1324.34,310 1323.5,315C1322.66,320 1317.62,333.5 1316.25,339C1314.88,344.5 1312.5,353.56 1312.5,359C1312.5,364.44 1315.31,376.12 1316.25,382.5C1317.19,388.88 1319.38,405.31 1320,410C1320.62,414.69 1320.62,416.56 1321.25,420C1321.88,423.44 1323.28,432.19 1325,437.5C1326.72,442.81 1332.81,456.88 1335,462.5C1337.19,468.12 1340.62,477.19 1342.5,482.5C1344.38,487.81 1347.5,499.69 1350,505C1352.5,510.31 1359.06,520.31 1362.5,525C1365.94,529.69 1373.75,538.12 1377.5,542.5C1381.25,546.88 1389.06,555.94 1392.5,560C1395.94,564.06 1402.81,571.72 1405,575C1407.19,578.28 1409.38,584.84 1410,586.25L1522.5,586.5L1522.5,97.5Z"/>
<path fill="#f0cf42" d="M1455,97.5C1454.22,98.75 1450.62,105.31 1448.75,107.5C1446.88,109.69 1441.72,112.81 1440,115C1438.28,117.19 1437.19,122.81 1435,125C1432.81,127.19 1425,130 1422.5,132.5C1420,135 1417.5,141.88 1415,145C1412.5,148.12 1405.31,153.75 1402.5,157.5C1399.69,161.25 1395,170.62 1392.5,175C1390,179.38 1384.69,188.12 1382.5,192.5C1380.31,196.88 1376.62,205.31 1375,210C1373.38,214.69 1371.22,224.06 1369.5,230C1367.78,235.94 1362,249.69 1361.25,257.5C1360.5,265.31 1363.47,283.94 1363.5,292.5C1363.53,301.06 1361.19,318.56 1361.5,326C1361.81,333.44 1365.25,347.25 1366,352C1366.75,356.75 1367.88,358.94 1367.5,364C1367.12,369.06 1363.62,386.44 1363,392.5C1362.38,398.56 1362.25,409.06 1362.5,412.5C1362.75,415.94 1364.22,415 1365,420C1365.78,425 1367.19,445 1368.75,452.5C1370.31,460 1375.47,474.06 1377.5,480C1379.53,485.94 1382.19,494.56 1385,500C1387.81,505.44 1397.34,519.75 1400,523.5C1402.66,527.25 1405,527.5 1406.25,530C1407.5,532.5 1408.44,540.88 1410,543.5C1411.56,546.12 1416.56,548.62 1418.75,551C1420.94,553.38 1424.84,559.5 1427.5,562.5C1430.16,565.5 1437.62,572.03 1440,575C1442.38,577.97 1445.69,584.84 1446.5,586.25L1522.5,586.5L1522.5,97.5Z"/>
<path fill="#e9bb30" d="M1520.75,108C1519.09,108.56 1511.34,110.69 1507.5,112.5C1503.66,114.31 1494.38,120.31 1490,122.5C1485.62,124.69 1476.56,127.5 1472.5,130C1468.44,132.5 1460.94,139.06 1457.5,142.5C1454.06,145.94 1447.81,153.75 1445,157.5C1442.19,161.25 1437.19,168.75 1435,172.5C1432.81,176.25 1429.38,183.44 1427.5,187.5C1425.62,191.56 1421.41,200.31 1420,205C1418.59,209.69 1416.81,220.62 1416.25,225C1415.69,229.38 1415.5,234.38 1415.5,240C1415.5,245.62 1415.69,260.94 1416.25,270C1416.81,279.06 1418.88,303.25 1420,312.5C1421.12,321.75 1424.88,337.12 1425.25,344C1425.62,350.88 1423.84,361.44 1423,367.5C1422.16,373.56 1419.34,386.25 1418.5,392.5C1417.66,398.75 1416.53,410.31 1416.25,417.5C1415.97,424.69 1415.78,442.5 1416.25,450C1416.72,457.5 1418.28,470.94 1420,477.5C1421.72,484.06 1427.19,496.88 1430,502.5C1432.81,508.12 1439.69,518.12 1442.5,522.5C1445.31,526.88 1450,534.06 1452.5,537.5C1455,540.94 1459.38,546.88 1462.5,550C1465.62,553.12 1473.44,559.69 1477.5,562.5C1481.56,565.31 1490.94,570.62 1495,572.5C1499.06,574.38 1506.78,576.47 1510,577.5C1513.22,578.53 1519.41,580.34 1520.75,580.75L1522.5,580.75L1522.5,108Z"/>
<path fill="#e4a626" d="M1520.75,150C1519.09,150.94 1511.34,155 1507.5,157.5C1503.66,160 1493.75,166.56 1490,170C1486.25,173.44 1480,181.25 1477.5,185C1475,188.75 1471.41,196.25 1470,200C1468.59,203.75 1466.88,211 1466.25,215C1465.62,219 1464.84,227.62 1465,232C1465.16,236.38 1466.56,244.94 1467.5,250C1468.44,255.06 1470.62,266.88 1472.5,272.5C1474.38,278.12 1479.69,289.69 1482.5,295C1485.31,300.31 1492.34,310.31 1495,315C1497.66,319.69 1502.44,328.75 1503.75,332.5C1505.06,336.25 1505.5,341.56 1505.5,345C1505.5,348.44 1505.38,355.62 1503.75,360C1502.12,364.38 1495.47,375 1492.5,380C1489.53,385 1482.5,395 1480,400C1477.5,405 1474,415 1472.5,420C1471,425 1468.62,434.38 1468,440C1467.38,445.62 1466.94,459.06 1467.5,465C1468.06,470.94 1470.62,482.19 1472.5,487.5C1474.38,492.81 1479.69,503.12 1482.5,507.5C1485.31,511.88 1491.56,519.22 1495,522.5C1498.44,525.78 1506.78,531.88 1510,533.75C1513.22,535.62 1519.41,537.03 1520.75,537.5L1522.5,537.5L1522.5,150Z"/>
<path fill="#fffbd3" d="M1102.5,97.5C1103.59,98.91 1108.12,105.31 1111.25,108.75C1114.38,112.19 1123.28,121.09 1127.5,125C1131.72,128.91 1141.54,137.31 1145,140C1148.46,142.69 1153.48,145.47 1155.2,146.5C1156.92,147.53 1157.71,148.09 1158.75,148.25C1159.79,148.41 1161.16,148.21 1163.5,147.8C1165.84,147.39 1173.56,146.29 1177.5,145C1181.44,143.71 1190.31,139.69 1195,137.5C1199.69,135.31 1210.62,129.84 1215,127.5C1219.38,125.16 1226.88,120.94 1230,118.75C1233.12,116.56 1238.28,112.66 1240,110C1241.72,107.34 1243.28,99.06 1243.75,97.5L1243.75,95.5L1102.5,95.5Z"/>
<path fill="#fffbd3" d="M1109.25,586.25C1109.66,584.53 1110.84,575.78 1112.5,572.5C1114.16,569.22 1119.38,563.12 1122.5,560C1125.62,556.88 1132.97,550.38 1137.5,547.5C1142.03,544.62 1153.44,538.09 1158.75,537C1164.06,535.91 1174.84,537.59 1180,538.75C1185.16,539.91 1195.31,544.53 1200,546.25C1204.69,547.97 1213.44,550.78 1217.5,552.5C1221.56,554.22 1229.06,557.81 1232.5,560C1235.94,562.19 1242.81,567.5 1245,570C1247.19,572.5 1249.19,577.97 1250,580C1250.81,582.03 1251.31,585.47 1251.5,586.25L1251.5,588.5L1109.25,588.5Z"/>
<g fill="none" stroke="#3b2a12" stroke-width="0.75" stroke-linejoin="round">
<path d="M838.75,151.25C840.47,152.03 848.91,155.16 852.5,157.5C856.09,159.84 864.38,166.56 867.5,170C870.62,173.44 875.31,181.25 877.5,185C879.69,188.75 883.28,195.62 885,200C886.72,204.38 890.16,215 891.25,220C892.34,225 893.44,235.94 893.75,240C894.06,244.06 894.53,248.44 893.75,252.5C892.97,256.56 889.84,267.5 887.5,272.5C885.16,277.5 878.59,287.34 875,292.5C871.41,297.66 862.34,309.06 858.75,313.75C855.16,318.44 848.28,326.88 846.25,330C844.22,333.12 842.34,335.62 842.5,338.75C842.66,341.88 845.94,351.09 847.5,355C849.06,358.91 852.34,366.41 855,370C857.66,373.59 865.78,379.69 868.75,383.75C871.72,387.81 876.56,398.59 878.75,402.5C880.94,406.41 884.72,411.56 886.25,415C887.78,418.44 889.97,426.62 891,430C892.03,433.38 894.09,437.94 894.5,442C894.91,446.06 894.81,457.12 894.25,462.5C893.69,467.88 891.78,479.69 890,485C888.22,490.31 882.81,500.62 880,505C877.19,509.38 870.94,516.88 867.5,520C864.06,523.12 856.09,527.88 852.5,530C848.91,532.12 840.47,536.12 838.75,537"/>
<path d="M838.75,106.25C841.09,107.03 852.66,110.16 857.5,112.5C862.34,114.84 872.81,121.88 877.5,125C882.19,128.12 891.25,133.75 895,137.5C898.75,141.25 904.38,150.62 907.5,155C910.62,159.38 917.19,168.12 920,172.5C922.81,176.88 928.12,185.31 930,190C931.88,194.69 933.88,204.75 935,210C936.12,215.25 938,226.38 939,232C940,237.62 942.62,249 943,255C943.38,261 942.69,273.12 942,280C941.31,286.88 938.38,302.88 937.5,310C936.62,317.12 935.12,330.75 935,337C934.88,343.25 935.94,354 936.5,360C937.06,366 938.88,379 939.5,385C940.12,391 941.12,401.75 941.5,408C941.88,414.25 942.53,427.25 942.5,435C942.47,442.75 942.19,462.5 941.25,470C940.31,477.5 937.34,488.75 935,495C932.66,501.25 925.75,514.69 922.5,520C919.25,525.31 912.31,533.62 909,537.5C905.69,541.38 900.12,548.19 896,551C891.88,553.81 880.81,557.62 876,560C871.19,562.38 862.16,568.09 857.5,570C852.84,571.91 841.09,574.59 838.75,575.25"/>
<path d="M907.5,97.5C908.44,99.06 912.5,106.88 915,110C917.5,113.12 924.38,119.38 927.5,122.5C930.62,125.62 937.5,131.56 940,135C942.5,138.44 945.31,146.56 947.5,150C949.69,153.44 955,159.06 957.5,162.5C960,165.94 965.16,173.44 967.5,177.5C969.84,181.56 974.38,190.31 976.25,195C978.12,199.69 981.25,210 982.5,215C983.75,220 985.78,231 986.25,235C986.72,239 985.78,242.31 986.25,247C986.72,251.69 988.28,265.56 990,272.5C991.72,279.44 998.69,294.69 1000,302.5C1001.31,310.31 1000.75,327.19 1000.5,335C1000.25,342.81 998.69,358.12 998,365C997.31,371.88 995.62,383.12 995,390C994.38,396.88 993.31,414.38 993,420C992.69,425.62 993.19,429.69 992.5,435C991.81,440.31 989.06,455.94 987.5,462.5C985.94,469.06 982.19,481.25 980,487.5C977.81,493.75 973.12,506.88 970,512.5C966.88,518.12 958.12,528.44 955,532.5C951.88,536.56 946.72,542.19 945,545C943.28,547.81 943.44,553.12 941.25,555C939.06,556.88 930.16,558.12 927.5,560C924.84,561.88 922.19,567.81 920,570C917.81,572.19 911.97,575.47 910,577.5C908.03,579.53 904.97,585.16 904.25,586.25"/>
<path d="M947.5,97.5C947.81,98.75 948.12,104.69 950,107.5C951.88,110.31 959.38,116.56 962.5,120C965.62,123.44 971.88,131.25 975,135C978.12,138.75 984.69,146.25 987.5,150C990.31,153.75 994.69,160.94 997.5,165C1000.31,169.06 1007.19,178.44 1010,182.5C1012.81,186.56 1018.12,193.44 1020,197.5C1021.88,201.56 1024.12,210.69 1025,215C1025.88,219.31 1026.84,227 1027,232C1027.16,237 1025.56,248.38 1026.25,255C1026.94,261.62 1030.84,278.44 1032.5,285C1034.16,291.56 1038.41,301.88 1039.5,307.5C1040.59,313.12 1040.56,324.69 1041.25,330C1041.94,335.31 1044.38,345.62 1045,350C1045.62,354.38 1046.72,360.62 1046.25,365C1045.78,369.38 1042.5,379.38 1041.25,385C1040,390.62 1037.03,404.12 1036.25,410C1035.47,415.88 1035.78,426.38 1035,432C1034.22,437.62 1031.88,449.31 1030,455C1028.12,460.69 1022.81,471.88 1020,477.5C1017.19,483.12 1010.62,494.38 1007.5,500C1004.38,505.62 998.12,517.19 995,522.5C991.88,527.81 985.62,538.12 982.5,542.5C979.38,546.88 973.44,554.38 970,557.5C966.56,560.62 957.97,565 955,567.5C952.03,570 947.72,575.16 946.25,577.5C944.78,579.84 943.62,585.16 943.25,586.25"/>
<path d="M1000,97.5C1000.62,98.75 1002.5,104.69 1005,107.5C1007.5,110.31 1016.25,116.56 1020,120C1023.75,123.44 1031.88,131.56 1035,135C1038.12,138.44 1042.81,144.06 1045,147.5C1047.19,150.94 1050.62,158.75 1052.5,162.5C1054.38,166.25 1057.81,174.38 1060,177.5C1062.19,180.62 1067.5,184.69 1070,187.5C1072.5,190.31 1077.5,195.94 1080,200C1082.5,204.06 1087.62,216 1090,220C1092.38,224 1096.81,228.56 1099,232C1101.19,235.44 1106.06,243.38 1107.5,247.5C1108.94,251.62 1110.66,259.38 1110.5,265C1110.34,270.62 1106.31,286.56 1106.25,292.5C1106.19,298.44 1108.12,306.25 1110,312.5C1111.88,318.75 1120.31,336.56 1121.25,342.5C1122.19,348.44 1119.06,355.94 1117.5,360C1115.94,364.06 1110.53,371.56 1108.75,375C1106.97,378.44 1103.94,383.75 1103.25,387.5C1102.56,391.25 1102.88,400.94 1103.25,405C1103.62,409.06 1106.19,416.25 1106.25,420C1106.31,423.75 1105.78,431.25 1103.75,435C1101.72,438.75 1093.28,446.56 1090,450C1086.72,453.44 1080,459.69 1077.5,462.5C1075,465.31 1071.56,467.81 1070,472.5C1068.44,477.19 1066.56,494.06 1065,500C1063.44,505.94 1060,515.31 1057.5,520C1055,524.69 1048.12,533.12 1045,537.5C1041.88,541.88 1035.31,551.25 1032.5,555C1029.69,558.75 1024.53,564.69 1022.5,567.5C1020.47,570.31 1017.25,575.16 1016.25,577.5C1015.25,579.84 1014.72,585.16 1014.5,586.25"/>
<path d="M1102.5,97.5C1103.59,98.91 1108.12,105.31 1111.25,108.75C1114.38,112.19 1123.28,121.09 1127.5,125C1131.72,128.91 1141.54,137.31 1145,140C1148.46,142.69 1153.48,145.47 1155.2,146.5C1156.92,147.53 1157.71,148.09 1158.75,148.25C1159.79,148.41 1161.16,148.21 1163.5,147.8C1165.84,147.39 1173.56,146.29 1177.5,145C1181.44,143.71 1190.31,139.69 1195,137.5C1199.69,135.31 1210.62,129.84 1215,127.5C1219.38,125.16 1226.88,120.94 1230,118.75C1233.12,116.56 1238.28,112.66 1240,110C1241.72,107.34 1243.28,99.06 1243.75,97.5"/>
<path d="M1109.25,586.25C1109.66,584.53 1110.84,575.78 1112.5,572.5C1114.16,569.22 1119.38,563.12 1122.5,560C1125.62,556.88 1132.97,550.38 1137.5,547.5C1142.03,544.62 1153.44,538.09 1158.75,537C1164.06,535.91 1174.84,537.59 1180,538.75C1185.16,539.91 1195.31,544.53 1200,546.25C1204.69,547.97 1213.44,550.78 1217.5,552.5C1221.56,554.22 1229.06,557.81 1232.5,560C1235.94,562.19 1242.81,567.5 1245,570C1247.19,572.5 1249.19,577.97 1250,580C1250.81,582.03 1251.31,585.47 1251.5,586.25"/>
<path d="M1356.5,97.5C1356.31,98.75 1356.31,104.19 1355,107.5C1353.69,110.81 1349,119.94 1346,124C1343,128.06 1335.19,136 1331,140C1326.81,144 1316.5,152.38 1312.5,156C1308.5,159.62 1301.75,165.69 1299,169C1296.25,172.31 1291.81,178.5 1290.5,182.5C1289.19,186.5 1289.31,196.19 1288.5,201C1287.69,205.81 1285,216.88 1284,221C1283,225.12 1282.56,231.81 1280.5,234C1278.44,236.19 1270.38,236.5 1267.5,238.5C1264.62,240.5 1259.31,246.69 1257.5,250C1255.69,253.31 1253.62,259.69 1253,265C1252.38,270.31 1253.34,285 1252.5,292.5C1251.66,300 1247.66,317.19 1246.25,325C1244.84,332.81 1242.03,348.44 1241.25,355C1240.47,361.56 1240.75,372 1240,377.5C1239.25,383 1235.56,394.94 1235.25,399C1234.94,403.06 1236.59,407.38 1237.5,410C1238.41,412.62 1240.62,416.56 1242.5,420C1244.38,423.44 1249.69,433.44 1252.5,437.5C1255.31,441.56 1262.5,448.12 1265,452.5C1267.5,456.88 1269.69,468.44 1272.5,472.5C1275.31,476.56 1284.06,481.25 1287.5,485C1290.94,488.75 1297.19,498.75 1300,502.5C1302.81,506.25 1307.97,511.56 1310,515C1312.03,518.44 1314.06,526.25 1316.25,530C1318.44,533.75 1324.53,540.94 1327.5,545C1330.47,549.06 1337.34,558.44 1340,562.5C1342.66,566.56 1347.34,574.53 1348.75,577.5C1350.16,580.47 1350.94,585.16 1351.25,586.25"/>
<path d="M1417.5,97.5C1417.19,98.75 1416.88,104.69 1415,107.5C1413.12,110.31 1405.75,116.56 1402.5,120C1399.25,123.44 1392.12,131.25 1389,135C1385.88,138.75 1380.5,146.12 1377.5,150C1374.5,153.88 1367.94,161.94 1365,166C1362.06,170.06 1356.62,178.12 1354,182.5C1351.38,186.88 1346.25,196.31 1344,201C1341.75,205.69 1337.28,216.38 1336,220C1334.72,223.62 1334.81,226.25 1333.75,230C1332.69,233.75 1329.69,244.69 1327.5,250C1325.31,255.31 1316.81,266.38 1316.25,272.5C1315.69,278.62 1322.09,293.69 1323,299C1323.91,304.31 1324.34,310 1323.5,315C1322.66,320 1317.62,333.5 1316.25,339C1314.88,344.5 1312.5,353.56 1312.5,359C1312.5,364.44 1315.31,376.12 1316.25,382.5C1317.19,388.88 1319.38,405.31 1320,410C1320.62,414.69 1320.62,416.56 1321.25,420C1321.88,423.44 1323.28,432.19 1325,437.5C1326.72,442.81 1332.81,456.88 1335,462.5C1337.19,468.12 1340.62,477.19 1342.5,482.5C1344.38,487.81 1347.5,499.69 1350,505C1352.5,510.31 1359.06,520.31 1362.5,525C1365.94,529.69 1373.75,538.12 1377.5,542.5C1381.25,546.88 1389.06,555.94 1392.5,560C1395.94,564.06 1402.81,571.72 1405,575C1407.19,578.28 1409.38,584.84 1410,586.25"/>
<path d="M1455,97.5C1454.22,98.75 1450.62,105.31 1448.75,107.5C1446.88,109.69 1441.72,112.81 1440,115C1438.28,117.19 1437.19,122.81 1435,125C1432.81,127.19 1425,130 1422.5,132.5C1420,135 1417.5,141.88 1415,145C1412.5,148.12 1405.31,153.75 1402.5,157.5C1399.69,161.25 1395,170.62 1392.5,175C1390,179.38 1384.69,188.12 1382.5,192.5C1380.31,196.88 1376.62,205.31 1375,210C1373.38,214.69 1371.22,224.06 1369.5,230C1367.78,235.94 1362,249.69 1361.25,257.5C1360.5,265.31 1363.47,283.94 1363.5,292.5C1363.53,301.06 1361.19,318.56 1361.5,326C1361.81,333.44 1365.25,347.25 1366,352C1366.75,356.75 1367.88,358.94 1367.5,364C1367.12,369.06 1363.62,386.44 1363,392.5C1362.38,398.56 1362.25,409.06 1362.5,412.5C1362.75,415.94 1364.22,415 1365,420C1365.78,425 1367.19,445 1368.75,452.5C1370.31,460 1375.47,474.06 1377.5,480C1379.53,485.94 1382.19,494.56 1385,500C1387.81,505.44 1397.34,519.75 1400,523.5C1402.66,527.25 1405,527.5 1406.25,530C1407.5,532.5 1408.44,540.88 1410,543.5C1411.56,546.12 1416.56,548.62 1418.75,551C1420.94,553.38 1424.84,559.5 1427.5,562.5C1430.16,565.5 1437.62,572.03 1440,575C1442.38,577.97 1445.69,584.84 1446.5,586.25"/>
<path d="M1520.75,108C1519.09,108.56 1511.34,110.69 1507.5,112.5C1503.66,114.31 1494.38,120.31 1490,122.5C1485.62,124.69 1476.56,127.5 1472.5,130C1468.44,132.5 1460.94,139.06 1457.5,142.5C1454.06,145.94 1447.81,153.75 1445,157.5C1442.19,161.25 1437.19,168.75 1435,172.5C1432.81,176.25 1429.38,183.44 1427.5,187.5C1425.62,191.56 1421.41,200.31 1420,205C1418.59,209.69 1416.81,220.62 1416.25,225C1415.69,229.38 1415.5,234.38 1415.5,240C1415.5,245.62 1415.69,260.94 1416.25,270C1416.81,279.06 1418.88,303.25 1420,312.5C1421.12,321.75 1424.88,337.12 1425.25,344C1425.62,350.88 1423.84,361.44 1423,367.5C1422.16,373.56 1419.34,386.25 1418.5,392.5C1417.66,398.75 1416.53,410.31 1416.25,417.5C1415.97,424.69 1415.78,442.5 1416.25,450C1416.72,457.5 1418.28,470.94 1420,477.5C1421.72,484.06 1427.19,496.88 1430,502.5C1432.81,508.12 1439.69,518.12 1442.5,522.5C1445.31,526.88 1450,534.06 1452.5,537.5C1455,540.94 1459.38,546.88 1462.5,550C1465.62,553.12 1473.44,559.69 1477.5,562.5C1481.56,565.31 1490.94,570.62 1495,572.5C1499.06,574.38 1506.78,576.47 1510,577.5C1513.22,578.53 1519.41,580.34 1520.75,580.75"/>
<path d="M1520.75,150C1519.09,150.94 1511.34,155 1507.5,157.5C1503.66,160 1493.75,166.56 1490,170C1486.25,173.44 1480,181.25 1477.5,185C1475,188.75 1471.41,196.25 1470,200C1468.59,203.75 1466.88,211 1466.25,215C1465.62,219 1464.84,227.62 1465,232C1465.16,236.38 1466.56,244.94 1467.5,250C1468.44,255.06 1470.62,266.88 1472.5,272.5C1474.38,278.12 1479.69,289.69 1482.5,295C1485.31,300.31 1492.34,310.31 1495,315C1497.66,319.69 1502.44,328.75 1503.75,332.5C1505.06,336.25 1505.5,341.56 1505.5,345C1505.5,348.44 1505.38,355.62 1503.75,360C1502.12,364.38 1495.47,375 1492.5,380C1489.53,385 1482.5,395 1480,400C1477.5,405 1474,415 1472.5,420C1471,425 1468.62,434.38 1468,440C1467.38,445.62 1466.94,459.06 1467.5,465C1468.06,470.94 1470.62,482.19 1472.5,487.5C1474.38,492.81 1479.69,503.12 1482.5,507.5C1485.31,511.88 1491.56,519.22 1495,522.5C1498.44,525.78 1506.78,531.88 1510,533.75C1513.22,535.62 1519.41,537.03 1520.75,537.5"/>
</g>
<rect x="838.75" y="167.75" width="57" height="103.5" fill="#000" fill-opacity="0.06"/>
<rect x="895.75" y="167.75" width="181.75" height="103.5" fill="#000" fill-opacity="0.145"/>
<rect x="1281.25" y="167.75" width="181.25" height="103.5" fill="#000" fill-opacity="0.145"/>
<rect x="1462.5" y="167.75" width="58.25" height="103.5" fill="#000" fill-opacity="0.06"/>
<rect x="838.5" y="167.75" width="9" height="103.5" fill="#000" fill-opacity="0.09"/>
<rect x="1511.5" y="167.75" width="9" height="103.5" fill="#000" fill-opacity="0.09"/>
<rect x="838.75" y="412" width="57" height="103.75" fill="#000" fill-opacity="0.06"/>
<rect x="895.75" y="412" width="181.75" height="103.75" fill="#000" fill-opacity="0.145"/>
<rect x="1281.25" y="412" width="181.25" height="103.75" fill="#000" fill-opacity="0.145"/>
<rect x="1462.5" y="412" width="58.25" height="103.75" fill="#000" fill-opacity="0.06"/>
<rect x="838.5" y="412" width="9" height="103.75" fill="#000" fill-opacity="0.09"/>
<rect x="1511.5" y="412" width="9" height="103.75" fill="#000" fill-opacity="0.09"/>
<g opacity="0.10"><ellipse cx="875.55" cy="216.7" rx="17" ry="14.6"/><rect x="883.75" y="207.2" width="12" height="19" rx="2"/></g>
<g opacity="0.10"><ellipse cx="1482.7" cy="216.7" rx="17" ry="14.6"/><rect x="1462.5" y="207.2" width="12" height="19" rx="2"/></g>
<g opacity="0.10"><ellipse cx="875.55" cy="460.6" rx="17" ry="14.6"/><rect x="883.75" y="451.1" width="12" height="19" rx="2"/></g>
<g opacity="0.10"><ellipse cx="1482.7" cy="460.6" rx="17" ry="14.6"/><rect x="1462.5" y="451.1" width="12" height="19" rx="2"/></g>
</g>
<rect x="838.5" y="97.5" width="682" height="489" fill="none" stroke="#5b5140" stroke-width="0.9"/>
<rect x="838.5" y="174.25" width="5.6" height="90.75" fill="#fff"/>
<path d="M838.5,174.25V265M838.5,174.25h5.6M838.5,265h5.6M844.1,174.25V265" stroke="#6e6e6e" stroke-width="0.9" fill="none"/>
<rect x="1514.9" y="174.25" width="5.6" height="90.75" fill="#fff"/>
<path d="M1520.5,174.25V265M1514.9,174.25h5.6M1514.9,265h5.6M1514.9,174.25V265" stroke="#6e6e6e" stroke-width="0.9" fill="none"/>
<rect x="838.5" y="418.75" width="5.6" height="90.5" fill="#fff"/>
<path d="M838.5,418.75V509.25M838.5,418.75h5.6M838.5,509.25h5.6M844.1,418.75V509.25" stroke="#6e6e6e" stroke-width="0.9" fill="none"/>
<rect x="1514.9" y="418.75" width="5.6" height="90.5" fill="#fff"/>
<path d="M1520.5,418.75V509.25M1514.9,418.75h5.6M1514.9,509.25h5.6M1514.9,418.75V509.25" stroke="#6e6e6e" stroke-width="0.9" fill="none"/>
<path d="M742,336.3H793.3V317.5L818.8,341L793.3,365V345.6H742Z" fill="#d97986"/>
<path d="M49,601V692.5M728.75,601V692.5M838.25,601V692.5M1521.25,601V692.5" stroke="#4d4d4d" stroke-width="1.35" stroke-dasharray="3.2 2.2" fill="none"/>
<path d="M61.75,653.3H715.5" stroke="#231815" stroke-width="1.6" fill="none"/><path d="M50.75,653.3l12,-6.8v13.6z" fill="#231815"/><path d="M726.5,653.3l-12,-6.8v13.6z" fill="#231815"/>
<path d="M851,653.3H1508.5" stroke="#231815" stroke-width="1.6" fill="none"/><path d="M840,653.3l12,-6.8v13.6z" fill="#231815"/><path d="M1519.5,653.3l-12,-6.8v13.6z" fill="#231815"/>
<text x="389.75" y="693" font-size="42" font-weight="400" fill="#231815" stroke="#231815" stroke-width="1.3" stroke-linejoin="round" text-anchor="middle" textLength="95" lengthAdjust="spacingAndGlyphs">6.0m</text>
<text x="1174.4" y="693" font-size="42" font-weight="400" fill="#231815" stroke="#231815" stroke-width="1.3" stroke-linejoin="round" text-anchor="middle" textLength="95" lengthAdjust="spacingAndGlyphs">6.0m</text>
<path d="M1527.5,100.5H1578.75M1527.5,589.5H1578.75" stroke="#4d4d4d" stroke-width="1.35" stroke-dasharray="3.2 2.2" fill="none"/>
<path d="M1549.5,113.5V578.75" stroke="#231815" stroke-width="1.6" fill="none"/><path d="M1549.5,103.5l-7,11h14z" fill="#231815"/><path d="M1549.5,588.75l-7,-11h14z" fill="#231815"/>
<text transform="translate(1593.3,336.25) rotate(-90)" font-size="47" font-weight="400" fill="#231815" stroke="#231815" stroke-width="1.5" stroke-linejoin="round" text-anchor="middle" textLength="100" lengthAdjust="spacingAndGlyphs">4.3m</text>
<rect x="989.3" y="720.4" width="88.3" height="46.8" fill="#f7e278"/>
<rect x="1077.3" y="720.4" width="87.4" height="46.8" fill="#f4d95c"/>
<rect x="1164.4" y="720.4" width="87.9" height="46.8" fill="#f2d64c"/>
<rect x="1252" y="720.4" width="87.3" height="46.8" fill="#f0cf42"/>
<rect x="1339" y="720.4" width="87.7" height="46.8" fill="#e9bb30"/>
<rect x="1426.4" y="720.4" width="87.7" height="46.8" fill="#e4a626"/>
<path d="M990,767V776.5" stroke="#777" stroke-width="1.6"/>
<path d="M1077.3,767V776.5M1164.4,767V776.5M1252,767V776.5M1339,767V776.5M1426.4,767V776.5" stroke="#333" stroke-width="0.9"/>
<text x="986.4" y="803.2" font-size="29.5" fill="#231815" stroke="#fff" stroke-width="0.45" textLength="29" lengthAdjust="spacingAndGlyphs">75</text>
<text x="1072.5" y="803.2" font-size="29.5" fill="#231815" stroke="#fff" stroke-width="0.45" textLength="41.5" lengthAdjust="spacingAndGlyphs">100</text>
<text x="1161.6" y="803.2" font-size="29.5" fill="#231815" stroke="#fff" stroke-width="0.45" textLength="39.2" lengthAdjust="spacingAndGlyphs">125</text>
<text x="1249" y="803.2" font-size="29.5" fill="#231815" stroke="#fff" stroke-width="0.45" textLength="39.7" lengthAdjust="spacingAndGlyphs">150</text>
<text x="1334.5" y="803.2" font-size="29.5" fill="#231815" stroke="#fff" stroke-width="0.45" textLength="42.5" lengthAdjust="spacingAndGlyphs">200</text>
<text x="1421.7" y="803.2" font-size="29.5" fill="#231815" stroke="#fff" stroke-width="0.45" textLength="42.5" lengthAdjust="spacingAndGlyphs">300</text>
<text x="1468.5" y="803.2" font-size="29.5" fill="#231815" stroke="#fff" stroke-width="0.45" textLength="40.5" lengthAdjust="spacingAndGlyphs">(lx)</text>
<!-- section -->
<text class="jp" x="1719.4" y="74" font-size="34" font-weight="500" fill="#231815" textLength="235" lengthAdjust="spacing" style="font-feature-settings:normal">照度設計条件</text>
<path d="M1719.5,86.5H1972.5L1736.75,175.5H1719.5Z" fill="url(#gUp)"/>
<path d="M2407.2,86.5H2157.5L2389.5,175.5H2407.2Z" fill="url(#gUp)"/>
<path d="M1719.5,205.75H1736.75L1931.75,282.5V382H1719.5Z" fill="url(#gDown)"/>
<path d="M2407.2,205.75H2389.5L2196.25,282.5V382H2407.2Z" fill="url(#gDown)"/>
<path fill="#cfcfd2" d="M1734.5,279.25h10.5v44h186.75v-44h10.25v101.5h-10.25v-29h-186.75v29h-10.5z"/>
<path fill="#cfcfd2" d="M2186.25,279.25h10v44h186.75v-44h10v101.5h-10v-29h-186.75v29h-10z"/>
<path fill="#9b9a8b" stroke="#9b9a8b" stroke-width="0.6" stroke-linejoin="round" d="M1752.3,323.25L1749.1,317.2L1747.8,311.3L1749.1,305.4L1751.8,301.9L1755,301.1L1757.2,302.2L1761.4,302.5L1765.2,301.1L1766.8,302.7L1770.6,304.3L1772.7,307L1773.2,309.7L1774.8,310.7L1780.7,308L1786.1,304.8L1788.2,302.2L1800,299.5L1810.7,298.2L1832.2,298.7L1855,298.75L1897.5,300L1931.75,303.75L1931.75,323.25Z"/>
<path fill="#9b9a8b" stroke="#9b9a8b" stroke-width="0.6" stroke-linejoin="round" d="M2375.7,323.25L2378.9,317.2L2380.2,311.3L2378.9,305.4L2376.2,301.9L2373,301.1L2370.8,302.2L2366.6,302.5L2362.8,301.1L2361.2,302.7L2357.4,304.3L2355.3,307L2354.8,309.7L2353.2,310.7L2347.3,308L2341.9,304.8L2339.8,302.2L2328,299.5L2317.3,298.2L2295.8,298.7L2273,298.75L2230.5,300L2196.25,303.75L2196.25,323.25Z"/>
<rect x="1719.5" y="86.5" width="687.7" height="295.5" fill="none" stroke="#231815" stroke-width="0.95"/>
<rect x="1719.5" y="175.5" width="17.25" height="30.25" fill="#fff" stroke="#231815" stroke-width="1"/>
<rect x="2389.7" y="175.5" width="17.5" height="30.5" fill="#fff" stroke="#231815" stroke-width="1"/>
<path d="M2064.5,97.5V370" stroke="#231815" stroke-width="1.5" fill="none"/><path d="M2064.5,88l-6.9,10.5h13.8z" fill="#231815"/><path d="M2064.5,379.5l-6.9,-10.5h13.8z" fill="#231815"/>
<text transform="translate(2098,237.5) rotate(-90)" font-size="33" font-weight="400" fill="#231815" stroke="#231815" stroke-width="1" stroke-linejoin="round" text-anchor="middle" textLength="70.3" lengthAdjust="spacingAndGlyphs">2.6m</text>
<path d="M2412,175H2462.5M2412,382H2462.5" stroke="#5a5a5a" stroke-width="1.5" stroke-dasharray="3.2 2.2" fill="none"/>
<path d="M2432.3,185.75V371.25" stroke="#231815" stroke-width="1.5" fill="none"/><path d="M2432.3,176.25l-6.9,10.5h13.8z" fill="#231815"/><path d="M2432.3,380.75l-6.9,-10.5h13.8z" fill="#231815"/>
<text transform="translate(2467.3,273) rotate(-90)" font-size="34.5" font-weight="400" fill="#231815" stroke="#231815" stroke-width="1" stroke-linejoin="round" text-anchor="middle" textLength="85.3" lengthAdjust="spacingAndGlyphs">1.85m</text>
<path d="M1721.25,386.5V478.75M2406.25,386.5V478.75" stroke="#4d4d4d" stroke-width="1.4" stroke-dasharray="3.2 2.2" fill="none"/>
<path d="M1732.2,440.4H2393.6" stroke="#231815" stroke-width="1.5" fill="none"/><path d="M1721.5,440.4l11.7,-6.6v13.2z" fill="#231815"/><path d="M2404.3,440.4l-11.7,-6.6v13.2z" fill="#231815"/>
<text x="2049.1" y="472.6" font-size="28" font-weight="700" fill="#231815" text-anchor="middle" textLength="72.4" lengthAdjust="spacingAndGlyphs">6.0m</text>
<text class="jp" x="1710.4" y="535.6" font-size="30" font-weight="500" fill="#231815" textLength="245" lengthAdjust="spacing">〈照度計算条件〉</text>
<text class="jp" x="1697.4" y="584.3" font-size="30" font-weight="400" fill="#231815" textLength="145" lengthAdjust="spacing">・間口：<tspan font-size="32.3">6m</tspan></text>
<text class="jp" x="1853.4" y="584.3" font-size="30" font-weight="400" fill="#231815" textLength="174.7" lengthAdjust="spacing">・奥行：<tspan font-size="32.3">4.3m</tspan></text>
<text class="jp" x="2040.3" y="584.3" font-size="30" font-weight="400" fill="#231815" textLength="484.2" lengthAdjust="spacing">・天井高さ：<tspan font-size="32.3">2.6m</tspan>（<tspan font-size="32.3">1</tspan>床あたり<tspan font-size="32.3">6.4</tspan>㎡）</text>
<text class="jp" x="1697.4" y="634.3" font-size="30" font-weight="400" fill="#231815" textLength="478.2" lengthAdjust="spacing">・器具取付高さ：<tspan font-size="32.3">1.85m</tspan>（器具上面）</text>
<text class="jp" x="1697.4" y="684.3" font-size="30" font-weight="400" fill="#231815" textLength="509.8" lengthAdjust="spacing">・計算面高さ ベッドエリア：<tspan font-size="32.3">FL</tspan>＋<tspan font-size="32.3">0.6m</tspan></text>
<text class="jp" x="1697.4" y="734.3" font-size="30" font-weight="400" fill="#231815" textLength="496.7" lengthAdjust="spacing">・反射率：天井<tspan font-size="32.3">70%</tspan>、壁<tspan font-size="32.3">30%</tspan>、床<tspan font-size="32.3">10%</tspan></text>
<text class="jp" x="1697.4" y="784.3" font-size="30" font-weight="400" fill="#231815" textLength="697.5" lengthAdjust="spacing">・保守率：リニューアル前 <tspan font-size="32.3">0.65</tspan>、リニューアル後 <tspan font-size="32.3">0.81</tspan></text>
</svg>
</body>
</html>
